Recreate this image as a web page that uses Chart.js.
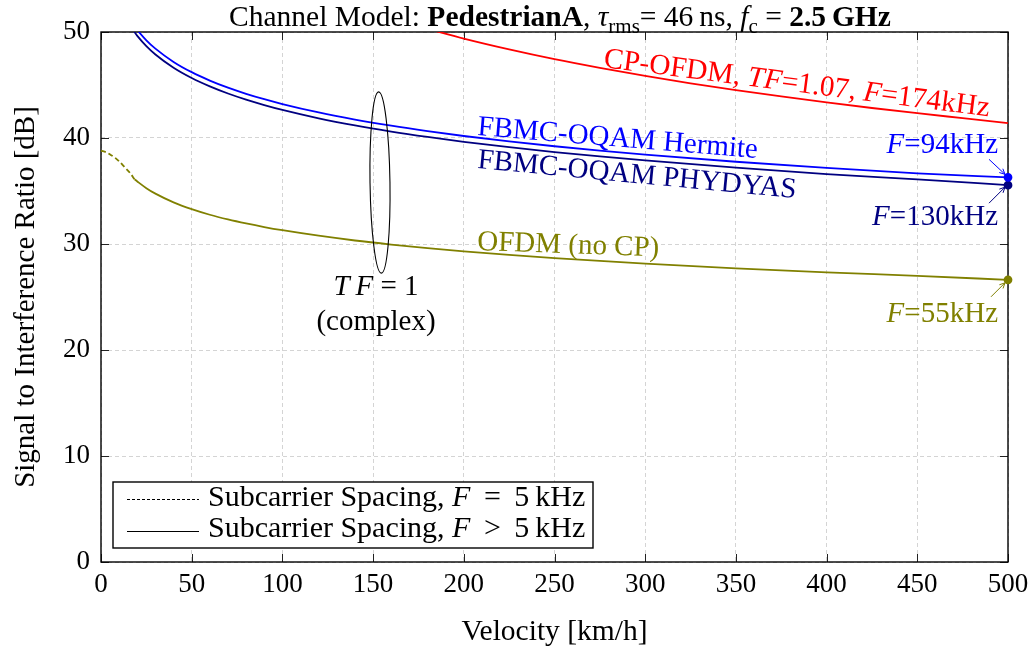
<!DOCTYPE html>
<html><head><meta charset="utf-8">
<script src="https://cdn.jsdelivr.net/npm/chart.js@4.4.0/dist/chart.umd.min.js"></script>
<style>html,body{margin:0;padding:0;background:#fff;}#wrap{width:1036px;height:657px;position:relative;}</style>
</head><body><div id="wrap"><canvas id="c" width="1036" height="657"></canvas></div>
<script>
// ---- data ----
const xTicks = [0, 50, 100, 150, 200, 250, 300, 350, 400, 450, 500];
const yTicks = [0, 10, 20, 30, 40, 50];

// CP-OFDM, TF=1.07, F=174kHz
const vCP   = [180, 200, 225, 250, 275, 300, 325, 350, 375, 400, 425, 450, 475, 500];
const sirCP = [50.3, 49.38, 48.36, 47.44, 46.62, 45.86, 45.16, 44.52, 43.92, 43.36, 42.83, 42.34, 41.87, 41.4];

// FBMC-OQAM (F > 5 kHz)
const vFBMC      = [18, 20, 25, 30, 40, 50, 60, 70, 80, 90, 100, 120, 140, 160, 180, 200, 225, 250, 275, 300, 350, 400, 450, 500];
const sirHermite = [50.65, 50.19, 49.22, 48.43, 47.18, 46.21, 45.42, 44.75, 44.17, 43.66, 43.2, 42.41, 41.74, 41.16, 40.65, 40.19, 39.68, 39.22, 38.81, 38.43, 37.76, 37.18, 36.67, 36.29];
const sirPhydyas = [50.1, 49.64, 48.67, 47.88, 46.63, 45.66, 44.87, 44.2, 43.62, 43.11, 42.65, 41.86, 41.19, 40.61, 40.1, 39.64, 39.13, 38.67, 38.26, 37.88, 37.21, 36.6, 36.1, 35.55];

// OFDM (no CP), F > 5 kHz
const vOFDM   = [18.5, 20, 25, 30, 40, 50, 60, 70, 80, 90, 100, 120, 140, 160, 180, 200, 225, 250, 275, 300, 350, 400, 450, 500];
const sirOFDM = [36.1, 35.9, 35.27, 34.75, 33.93, 33.29, 32.76, 32.32, 31.94, 31.6, 31.3, 30.78, 30.33, 29.95, 29.61, 29.31, 28.97, 28.67, 28.4, 28.15, 27.71, 27.33, 26.99, 26.62];

// OFDM (no CP), F = 5 kHz (dashed)
const vOFDM5   = [0, 3, 5, 8, 10, 13, 16, 18.5];
const sirOFDM5 = [38.8, 38.65, 38.45, 38.1, 37.8, 37.25, 36.7, 36.1];

const FONT = "'Liberation Serif','Times New Roman',serif";
const C_RED = '#ff0000', C_BLUE = '#0000ff', C_NAVY = '#000080', C_OLIVE = '#808000';

const pts = (xs, ys) => xs.map((v, i) => ({x: v, y: ys[i]}));
const lastDot = (r) => (ctx) => (ctx.dataIndex === ctx.dataset.data.length - 1 ? r : 0);

function ds(label, xs, ys, color, opts) {
  return Object.assign({
    label, data: pts(xs, ys), borderColor: color, backgroundColor: color,
    borderWidth: 1.8, pointRadius: 0, pointHoverRadius: 0, tension: 0.3,
    cubicInterpolationMode: 'monotone', fill: false,
    clip: {left: 0, top: 0, right: 6, bottom: 0}
  }, opts || {});
}

// ---- rich text helper ----
function fontFor(style, size) {
  if (style === 'b') return 'bold ' + size + 'px ' + FONT;
  if (style === 'i') return 'italic ' + size + 'px ' + FONT;
  if (style === 'sub') return Math.round(size * 0.7) + 'px ' + FONT;
  return size + 'px ' + FONT;
}
function richWidth(ctx, parts, size) {
  let w = 0;
  parts.forEach(([t, s]) => { ctx.font = fontFor(s, size); w += ctx.measureText(t).width; });
  return w;
}
function drawRich(ctx, parts, x, y, size, color, align) {
  const w = richWidth(ctx, parts, size);
  let cx = x;
  if (align === 'center') cx = x - w / 2;
  else if (align === 'right') cx = x - w;
  ctx.fillStyle = color;
  ctx.textBaseline = 'alphabetic';
  ctx.textAlign = 'left';
  parts.forEach(([t, s]) => {
    ctx.font = fontFor(s, size);
    const dy = s === 'sub' ? size * 0.25 : 0;
    ctx.fillText(t, cx, y + dy);
    cx += ctx.measureText(t).width;
  });
}
function drawRotRich(ctx, parts, x, y, deg, size, color) {
  ctx.save();
  ctx.translate(x, y);
  ctx.rotate(deg * Math.PI / 180);
  drawRich(ctx, parts, 0, 0, size, color, 'left');
  ctx.restore();
}
function arrow(ctx, x1, y1, x2, y2, color) {
  ctx.save();
  ctx.strokeStyle = color; ctx.lineWidth = 1;
  ctx.beginPath(); ctx.moveTo(x1, y1); ctx.lineTo(x2, y2); ctx.stroke();
  const a = Math.atan2(y2 - y1, x2 - x1), h = 6;
  ctx.beginPath();
  ctx.moveTo(x2 - h * Math.cos(a - 0.45), y2 - h * Math.sin(a - 0.45));
  ctx.lineTo(x2, y2);
  ctx.lineTo(x2 - h * Math.cos(a + 0.45), y2 - h * Math.sin(a + 0.45));
  ctx.stroke();
  ctx.restore();
}

const deco = {
  id: 'deco',
  beforeDatasetsDraw(chart) {
    const {ctx, chartArea: a, scales: {x, y}} = chart;
    ctx.save();
    ctx.strokeStyle = '#222'; ctx.lineWidth = 1;
    ctx.beginPath();
    xTicks.forEach(v => {
      const px = Math.round(x.getPixelForValue(v)) + 0.5;
      ctx.moveTo(px, a.bottom); ctx.lineTo(px, a.bottom - 8);
      ctx.moveTo(px, a.top); ctx.lineTo(px, a.top + 8);
    });
    yTicks.forEach(v => {
      const py = Math.round(y.getPixelForValue(v)) + 0.5;
      ctx.moveTo(a.left, py); ctx.lineTo(a.left + 8, py);
      ctx.moveTo(a.right, py); ctx.lineTo(a.right - 8, py);
    });
    ctx.stroke();
    ctx.strokeStyle = '#000'; ctx.lineWidth = 1.4;
    ctx.strokeRect(a.left, a.top, a.right - a.left, a.bottom - a.top);
    ctx.restore();
  },
  afterDraw(chart) {
    const {ctx, scales: {x, y}} = chart;
    ctx.save();
    // title
    drawRich(ctx, [['Channel Model: ', ''], ['PedestrianA', 'b'], [', ', ''], ['\u03C4', 'i'], ['rms', 'sub'],
      ['= 46\u2009ns, ', ''], ['f', 'i'], ['c', 'sub'], [' = ', ''], ['2.5\u2009GHz', 'b']], 560, 26, 29.5, '#000', 'center');

    // curve labels
    const S = 29;
    drawRotRich(ctx, [['CP-OFDM, ', ''], ['TF', 'i'], ['=1.07, ', ''], ['F', 'i'], ['=174kHz', '']], 603, 67, 7.3, 29.3, C_RED);
    drawRotRich(ctx, [['FBMC-OQAM Hermite', '']], 477, 135, 4.7, S, C_BLUE);
    drawRotRich(ctx, [['FBMC-OQAM PHYDYAS', '']], 477, 168, 5.4, S, C_NAVY);
    drawRotRich(ctx, [['OFDM (no CP)', '']], 477, 250, 2.0, S, C_OLIVE);

    // end-point labels with arrows
    const px = x.getPixelForValue(500);
    const yH = y.getPixelForValue(sirHermite[sirHermite.length - 1]);
    const yP = y.getPixelForValue(sirPhydyas[sirPhydyas.length - 1]);
    const yO = y.getPixelForValue(sirOFDM[sirOFDM.length - 1]);
    drawRich(ctx, [['F', 'i'], ['=94kHz', '']], 998, 153, S, C_BLUE, 'right');
    drawRich(ctx, [['F', 'i'], ['=130kHz', '']], 998, 225, S, C_NAVY, 'right');
    drawRich(ctx, [['F', 'i'], ['=55kHz', '']], 998, 322, S, C_OLIVE, 'right');
    arrow(ctx, px - 19, yH - 18, px - 3, yH - 3, C_BLUE);
    arrow(ctx, px - 19, yP + 18, px - 3, yP + 2, C_NAVY);
    arrow(ctx, px - 17, yO + 17, px - 3, yO + 3, C_OLIVE);

    // ellipse grouping FBMC / OFDM curves
    const ex = x.getPixelForValue(153.8), ey = y.getPixelForValue(35.8);
    const ry = y.getPixelForValue(35.8 - 8.55) - ey, rx = x.getPixelForValue(153.8 + 5.5) - ex;
    ctx.strokeStyle = '#000'; ctx.lineWidth = 1.1;
    ctx.beginPath(); ctx.ellipse(ex, ey, rx, ry, -0.015, 0, Math.PI * 2); ctx.stroke();
    drawRich(ctx, [['T\u2009F', 'i'], [' = 1', '']], 376, 295, S, '#000', 'center');
    drawRich(ctx, [['(complex)', '']], 376, 330, S, '#000', 'center');

    // legend
    ctx.fillStyle = '#fff';
    ctx.fillRect(113, 482, 480, 66);
    ctx.strokeStyle = '#000'; ctx.lineWidth = 1.4;
    ctx.strokeRect(113, 482, 480, 66);
    ctx.lineWidth = 1.1;
    ctx.setLineDash([3, 2]);
    ctx.beginPath(); ctx.moveTo(127, 499.5); ctx.lineTo(199, 499.5); ctx.stroke();
    ctx.setLineDash([]);
    ctx.beginPath(); ctx.moveTo(127, 531.5); ctx.lineTo(199, 531.5); ctx.stroke();
    drawRich(ctx, [['Subcarrier Spacing, ', ''], ['F', 'i'], [' \u2009=\u2009 5\u2009kHz', '']], 208, 506, 30, '#000', 'left');
    drawRich(ctx, [['Subcarrier Spacing, ', ''], ['F', 'i'], [' \u2009>\u2009 5\u2009kHz', '']], 208, 537, 30, '#000', 'left');
    ctx.restore();
  }
};

new Chart(document.getElementById('c'), {
  type: 'line',
  data: {
    datasets: [
      ds('CP-OFDM', vCP, sirCP, C_RED),
      ds('FBMC-OQAM Hermite', vFBMC, sirHermite, C_BLUE, {pointRadius: lastDot(3.5)}),
      ds('FBMC-OQAM PHYDYAS', vFBMC, sirPhydyas, C_NAVY, {pointRadius: lastDot(3.5)}),
      ds('OFDM (no CP)', vOFDM, sirOFDM, C_OLIVE, {pointRadius: lastDot(3.5)}),
      ds('OFDM (no CP), F=5kHz', vOFDM5, sirOFDM5, C_OLIVE, {borderDash: [5, 3]})
    ]
  },
  options: {
    responsive: false, animation: false, devicePixelRatio: 1,
    layout: {padding: {left: 0, top: 32, right: 28, bottom: 0}},
    plugins: {legend: {display: false}, tooltip: {enabled: false}, title: {display: false}},
    scales: {
      x: {
        type: 'linear', min: 0, max: 500,
        afterBuildTicks: s => { s.ticks = xTicks.map(v => ({value: v})); },
        afterFit: s => { s.height = 95; },
        ticks: {font: {family: FONT, size: 27}, color: '#000', padding: 7, maxRotation: 0},
        grid: {color: '#d4d4d4', lineWidth: 1, drawTicks: false},
        border: {display: false, dash: [4, 3]},
        title: {display: true, text: 'Velocity [km/h]', color: '#000', font: {family: FONT, size: 29.5}, padding: {top: 0, bottom: 7}}
      },
      y: {
        type: 'linear', min: 0, max: 50,
        afterBuildTicks: s => { s.ticks = yTicks.map(v => ({value: v})); },
        afterFit: s => { s.width = 101; },
        ticks: {font: {family: FONT, size: 27}, color: '#000', padding: 11},
        grid: {color: '#d4d4d4', lineWidth: 1, drawTicks: false},
        border: {display: false, dash: [4, 3]},
        title: {display: true, text: 'Signal to Interference Ratio [dB]', color: '#000', font: {family: FONT, size: 29}, padding: {top: 9, bottom: 0}}
      }
    }
  },
  plugins: [deco]
});
</script></body></html>
